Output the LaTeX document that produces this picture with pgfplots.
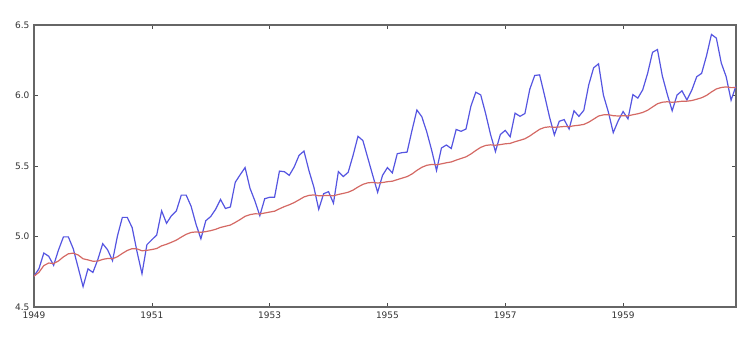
\documentclass[border=0pt]{standalone}
\usepackage{fontspec}
\setmainfont{DejaVu Sans}
\usepackage{pgfplots}
\usepackage{pgfplotstable}
\pgfplotsset{compat=1.18}
\definecolor{lblue}{RGB}{85,85,225}
\definecolor{lred}{RGB}{212,105,100}
\pgfplotstableread{
t y
0 4.7185
1 4.7707
2 4.8828
3 4.8598
4 4.7958
5 4.9053
6 4.9972
7 4.9972
8 4.9127
9 4.7791
10 4.6444
11 4.7707
12 4.7449
13 4.8363
14 4.9488
15 4.9053
16 4.8283
17 5.0039
18 5.1358
19 5.1358
20 5.0626
21 4.8903
22 4.7362
23 4.9416
24 4.9767
25 5.0106
26 5.1818
27 5.0938
28 5.1475
29 5.1818
30 5.2933
31 5.2933
32 5.2149
33 5.0876
34 4.9836
35 5.1120
36 5.1417
37 5.1930
38 5.2627
39 5.1985
40 5.2095
41 5.3845
42 5.4381
43 5.4889
44 5.3423
45 5.2523
46 5.1475
47 5.2679
48 5.2781
49 5.2781
50 5.4638
51 5.4596
52 5.4337
53 5.4931
54 5.5759
55 5.6058
56 5.4681
57 5.3519
58 5.1930
59 5.3033
60 5.3181
61 5.2364
62 5.4596
63 5.4250
64 5.4553
65 5.5759
66 5.7104
67 5.6802
68 5.5568
69 5.4337
70 5.3132
71 5.4337
72 5.4889
73 5.4510
74 5.5872
75 5.5947
76 5.5984
77 5.7526
78 5.8972
79 5.8493
80 5.7430
81 5.6131
82 5.4681
83 5.6276
84 5.6490
85 5.6240
86 5.7589
87 5.7462
88 5.7621
89 5.9243
90 6.0234
91 6.0039
92 5.8721
93 5.7236
94 5.6021
95 5.7236
96 5.7526
97 5.7071
98 5.8749
99 5.8522
100 5.8721
101 6.0450
102 6.1420
103 6.1463
104 6.0014
105 5.8493
106 5.7203
107 5.8171
108 5.8289
109 5.7621
110 5.8916
111 5.8522
112 5.8944
113 6.0753
114 6.1964
115 6.2246
116 6.0014
117 5.8833
118 5.7366
119 5.8201
120 5.8861
121 5.8348
122 6.0064
123 5.9814
124 6.0403
125 6.1570
126 6.3063
127 6.3261
128 6.1377
129 6.0088
130 5.8916
131 6.0039
132 6.0331
133 5.9687
134 6.0379
135 6.1334
136 6.1570
137 6.2823
138 6.4329
139 6.4069
140 6.2305
141 6.1334
142 5.9661
143 6.0684
}\logdata
\pgfplotstableread{
t y
0 4.7185
1 4.7454
2 4.7938
3 4.8118
4 4.8082
5 4.8268
6 4.8556
7 4.8771
8 4.8820
9 4.8688
10 4.8420
11 4.8340
12 4.8246
13 4.8258
14 4.8377
15 4.8440
16 4.8426
17 4.8566
18 4.8801
19 4.9010
20 4.9139
21 4.9121
22 4.8987
23 4.9019
24 4.9074
25 4.9148
26 4.9338
27 4.9450
28 4.9590
29 4.9742
30 4.9957
31 5.0155
32 5.0287
33 5.0325
34 5.0294
35 5.0347
36 5.0415
37 5.0510
38 5.0643
39 5.0727
40 5.0811
41 5.0998
42 5.1205
43 5.1430
44 5.1551
45 5.1609
46 5.1601
47 5.1666
48 5.1732
49 5.1795
50 5.1963
51 5.2119
52 5.2249
53 5.2407
54 5.2603
55 5.2805
56 5.2914
57 5.2949
58 5.2890
59 5.2899
60 5.2915
61 5.2883
62 5.2982
63 5.3055
64 5.3141
65 5.3291
66 5.3510
67 5.3698
68 5.3805
69 5.3836
70 5.3795
71 5.3826
72 5.3887
73 5.3922
74 5.4033
75 5.4142
76 5.4247
77 5.4433
78 5.4690
79 5.4906
80 5.5049
81 5.5110
82 5.5086
83 5.5153
84 5.5229
85 5.5286
86 5.5416
87 5.5532
88 5.5649
89 5.5852
90 5.6100
91 5.6322
92 5.6457
93 5.6501
94 5.6474
95 5.6517
96 5.6574
97 5.6602
98 5.6723
99 5.6824
100 5.6931
101 5.7129
102 5.7370
103 5.7601
104 5.7736
105 5.7779
106 5.7746
107 5.7770
108 5.7800
109 5.7789
110 5.7853
111 5.7890
112 5.7950
113 5.8107
114 5.8324
115 5.8544
116 5.8627
117 5.8639
118 5.8567
119 5.8547
120 5.8564
121 5.8552
122 5.8637
123 5.8703
124 5.8799
125 5.8954
126 5.9185
127 5.9414
128 5.9524
129 5.9556
130 5.9520
131 5.9549
132 5.9593
133 5.9598
134 5.9642
135 5.9737
136 5.9840
137 6.0008
138 6.0250
139 6.0465
140 6.0568
141 6.0611
142 6.0558
143 6.0565
}\ewmadata
\begin{document}
\begin{tikzpicture}
\begin{axis}[
  at={(34pt,30pt)}, anchor=south west,
  scale only axis, width=702pt, height=282pt,
  xmin=1949, xmax=1960.9167, ymin=4.5, ymax=6.5,
  xtick={1949,1951,1953,1955,1957,1959},
  ytick={4.5,5.0,5.5,6.0,6.5},
  /pgf/number format/assume math mode=true,
  xticklabel style={/pgf/number format/1000 sep={}, font=\fontsize{9}{10}\selectfont, text=black!80, yshift=-1pt},
  yticklabel style={/pgf/number format/fixed, /pgf/number format/fixed zerofill, /pgf/number format/precision=1, font=\fontsize{9}{10}\selectfont, text=black!80, xshift=-1pt},
  tick align=inside, major tick length=4pt,
  tick style={black!70, line width=0.6pt},
  axis line style={black!60, line width=1.2pt},
  xtick pos=both, ytick pos=both,
  clip=true,
]
\addplot[lblue, line width=1.2pt] table[x expr=1949+\thisrow{t}/12, y=y] {\logdata};
\addplot[lred, line width=1.2pt] table[x expr=1949+\thisrow{t}/12, y=y] {\ewmadata};
\end{axis}
\pgfresetboundingbox
\useasboundingbox (0,0) rectangle (744pt,337pt);
\end{tikzpicture}
\end{document}
